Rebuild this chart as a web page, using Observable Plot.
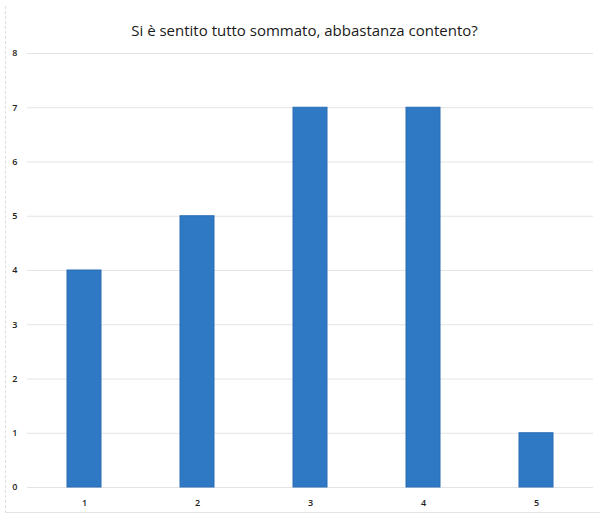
<!DOCTYPE html>
<html>
<head>
<meta charset="utf-8">
<script src="https://cdn.jsdelivr.net/npm/d3@7"></script>
<script src="https://cdn.jsdelivr.net/npm/@observablehq/plot@0.6"></script>
<style>
  html, body { margin: 0; padding: 0; background: #fff; }
  #wrap { position: relative; width: 603px; height: 515px; overflow: hidden; }
  #title { height: 45px; line-height: 60px; text-align: center; font-family: "Open Sans", sans-serif; font-size: 15px; color: #1a1a1a; padding-left: 6px; box-sizing: border-box; }
  #frame { position: absolute; left: 5px; top: 6px; width: 595px; height: 507px; border-left: 1px dashed #ddd; border-bottom: 1px solid #e4e4e4; box-sizing: border-box; pointer-events: none; }
</style>
</head>
<body>
<div id="wrap">
  <div id="frame"></div>
  <div id="title">Si è sentito tutto sommato, abbastanza contento?</div>
  <div id="chart"></div>
</div>
<script>
const categories = ["1", "2", "3", "4", "5"];
const counts = [4, 5, 7, 7, 1];
const yTicks = [0, 1, 2, 3, 4, 5, 6, 7, 8];

const data = categories.map((c, i) => ({category: c, count: counts[i]}));

const chart = Plot.plot({
  width: 603,
  height: 470,
  marginTop: 8,
  marginBottom: 28,
  marginLeft: 27,
  marginRight: 10,
  style: {fontFamily: "'Open Sans', sans-serif", fontSize: "9px", fontWeight: "600", color: "#222", background: "#fff"},
  x: {domain: categories, paddingInner: 0.7, paddingOuter: 0.35, label: null, tickSize: 0, tickPadding: 12},
  y: {domain: [0, 8], ticks: yTicks, label: null, tickSize: 0, tickPadding: 10},
  marks: [
    Plot.ruleY(yTicks, {stroke: "#e3e3e3", strokeWidth: 1}),
    Plot.barY(data, {x: "category", y: "count", fill: "#2f78c4", stroke: "#2a6cb6", strokeWidth: 1})
  ]
});
document.getElementById("chart").appendChild(chart);
</script>
</body>
</html>
